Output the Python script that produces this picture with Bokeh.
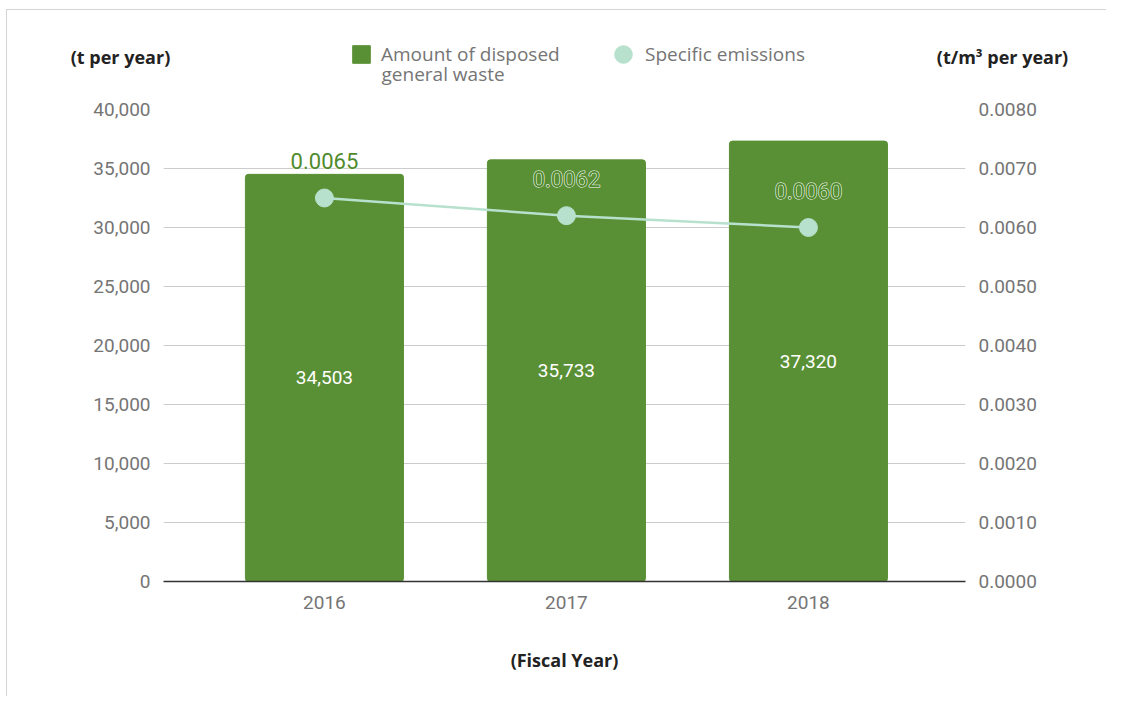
from bokeh.plotting import figure
from bokeh.layouts import column
from bokeh.models import (Range1d, LinearAxis, FixedTicker, NumeralTickFormatter,
                          Legend, LegendItem)
from bokeh.core.properties import value
from bokeh.embed import file_html
from bokeh.resources import INLINE

# ---- data ----
years = ["2016", "2017", "2018"]
waste = [34503, 35733, 37320]          # t per year
emissions = [0.0065, 0.0062, 0.0060]   # t/m3 per year
left_ticks = [0, 5000, 10000, 15000, 20000, 25000, 30000, 35000, 40000]
right_ticks = [0.0, 0.001, 0.002, 0.003, 0.004, 0.005, 0.006, 0.007, 0.008]
bar_name = ["Amount of disposed", "general waste"]
line_name = "Specific emissions"
left_title = "(t per year)"
right_title = "(t/m³ per year)"
x_title = "(Fiscal Year)"

# ---- styles ----
BAR = "#5a9035"
LINE = "#b7e1cd"
TICK_COLOR = "#757575"
TITLE_COLOR = "#222222"
OX, OY = 7, 10          # content origin inside the bordered box
W = 1099
HEAD_H = 80
MAIN_H = 606
XS, XE = -0.665, 2.649
YMAX = 40000
EMAX = 0.008
NAN = float("nan")

# ---------------- header (axis titles + legend) ----------------
head = figure(width=W, height=HEAD_H, output_backend="svg", toolbar_location=None,
              x_range=Range1d(OX, OX + W), y_range=Range1d(OY + HEAD_H, OY),
              x_axis_type=None, y_axis_type=None,
              min_border_left=0, min_border_right=0, min_border_top=0,
              min_border_bottom=0)
head.outline_line_color = None
head.grid.grid_line_color = None

head.text(x=[120, 1002], y=[56, 56], text=[left_title, right_title],
          text_font=value("Open Sans"), text_font_style="bold",
          text_font_size="18px", text_color=TITLE_COLOR,
          text_align="center", text_baseline="middle")
# second line of the bar legend label
head.text(x=[381], y=[73], text=[bar_name[1]],
          text_font=value("Open Sans"), text_font_size="19px",
          text_color=TICK_COLOR, text_align="left", text_baseline="middle")

# legend proxies (NaN data: nothing drawn, only used by the legends)
sw_bar = head.vbar(x=[NAN], top=[NAN], width=1, color=BAR, border_radius=2)
sw_pt = head.scatter(x=[NAN], y=[NAN], size=18, fill_color=LINE, line_color=LINE)

def mk_legend(label, rend, loc, glyph, standoff):
    return Legend(items=[LegendItem(label=label, renderers=[rend])], location=loc,
                  padding=0, margin=0, spacing=0, border_line_color=None,
                  background_fill_alpha=0, label_text_font="Open Sans",
                  label_text_font_size="19px", label_text_color=TICK_COLOR,
                  glyph_width=glyph, glyph_height=glyph, label_standoff=standoff)

head.add_layout(mk_legend(bar_name[0], sw_bar, (343, 23), 22, 9))
head.add_layout(mk_legend(line_name, sw_pt, (594, 14), 44, 0))

# ---------------- main chart ----------------
p = figure(width=W, height=MAIN_H, output_backend="svg", toolbar_location=None,
           x_range=Range1d(XS, XE), y_range=Range1d(0, YMAX),
           min_border_left=156, min_border_right=141,
           min_border_top=19, min_border_bottom=MAIN_H - 19 - 472)
p.outline_line_color = None
p.background_fill_color = "white"
p.border_fill_color = "white"
p.extra_y_ranges = {"em": Range1d(0, EMAX)}

xs = list(range(len(years)))

bars = p.vbar(x=xs, top=waste, width=0.653, color=BAR, border_radius=3)
p.line(x=xs, y=emissions, y_range_name="em", color=LINE, line_width=2.5)
p.scatter(x=xs, y=emissions, y_range_name="em", size=18,
          fill_color=LINE, line_color=LINE)

p.text(x=xs, y=[v / 2 for v in waste], text=[f"{v:,}" for v in waste],
       text_color="white", text_font=value("Roboto"), text_font_size="19px",
       text_align="center", text_baseline="middle")

em_labels = [f"{v:.4f}" for v in emissions]
# white halo, then the green text on top
p.text(x=xs, y=emissions, y_range_name="em", text=em_labels,
       y_offset=-37, text_color="white", text_font=value("Roboto"),
       text_font_size="22px", text_align="center", text_baseline="middle",
       text_outline_color="white")
p.text(x=xs, y=emissions, y_range_name="em", text=em_labels,
       y_offset=-37, text_color="#4f8a2c", text_font=value("Roboto"),
       text_font_size="22px", text_align="center", text_baseline="middle")

# axes
p.xaxis.ticker = FixedTicker(ticks=xs)
p.xaxis.major_label_overrides = {i: y for i, y in enumerate(years)}
p.xaxis.axis_line_color = "#333333"
p.xaxis.axis_line_width = 1.5
p.xaxis.major_label_standoff = 14
p.xaxis.axis_label = x_title
p.xaxis.axis_label_text_font = "Open Sans"
p.xaxis.axis_label_text_font_style = "bold"
p.xaxis.axis_label_text_font_size = "18px"
p.xaxis.axis_label_text_color = TITLE_COLOR
p.xaxis.axis_label_standoff = 36

p.yaxis.ticker = FixedTicker(ticks=left_ticks)
p.yaxis.formatter = NumeralTickFormatter(format="0,0")
p.yaxis.axis_line_color = None
p.yaxis.major_label_standoff = 13

rax = LinearAxis(y_range_name="em", ticker=FixedTicker(ticks=right_ticks),
                 formatter=NumeralTickFormatter(format="0.0000"))
rax.axis_line_color = None
rax.major_label_standoff = 13
p.add_layout(rax, "right")

for ax in [p.xaxis[0], p.yaxis[0], rax]:
    ax.major_tick_line_color = None
    ax.minor_tick_line_color = None
    ax.major_tick_out = 0
    ax.minor_tick_out = 0
    ax.major_label_text_font = "Roboto"
    ax.major_label_text_font_size = "19px"
    ax.major_label_text_color = TICK_COLOR

p.xgrid.grid_line_color = None
p.ygrid.ticker = FixedTicker(ticks=left_ticks)
p.ygrid.grid_line_color = "#cccccc"

layout = column(column(head), column(p), spacing=0, margin=(9, 0, 0, 6),
                styles={"border-top": "1px solid #d4d4d4",
                        "border-left": "1px solid #d4d4d4"})
open("out.html", "w").write(file_html(layout, INLINE))
